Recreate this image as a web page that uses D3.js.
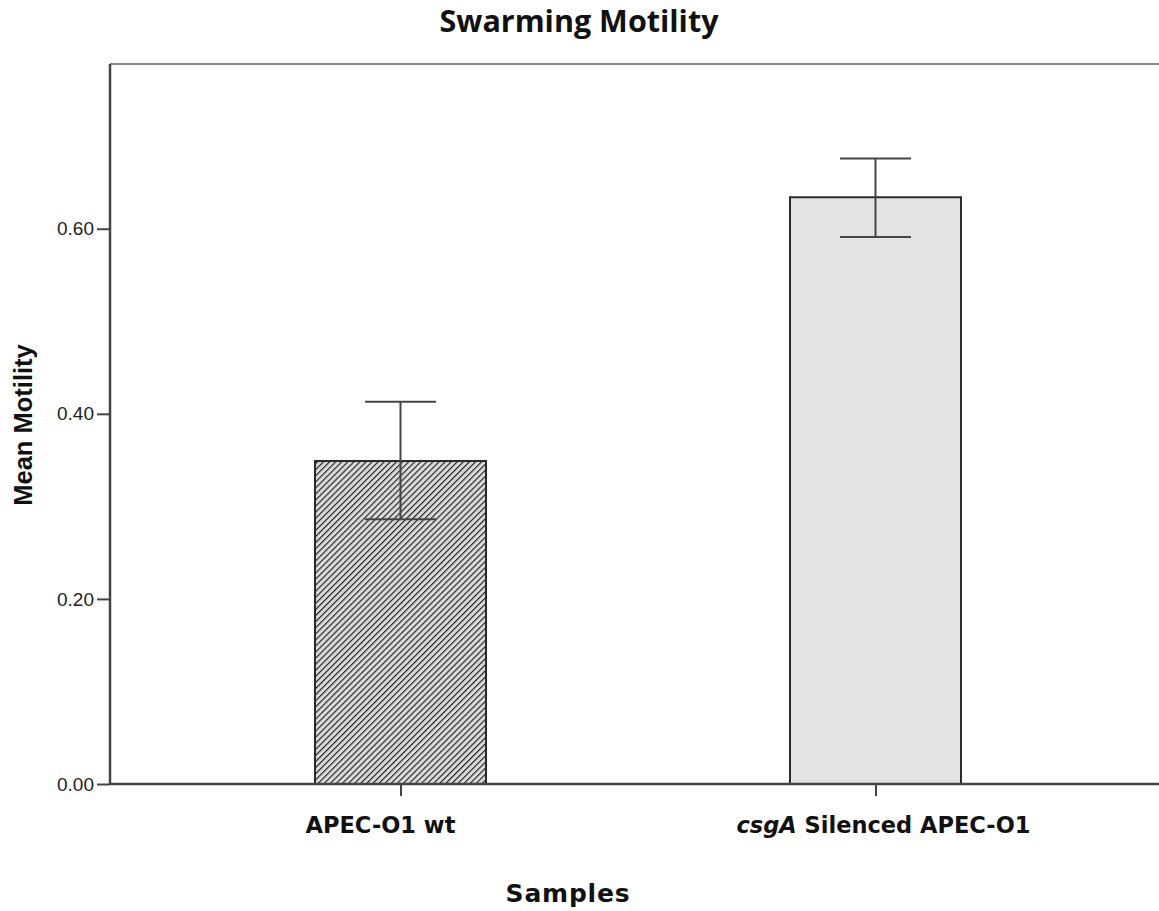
<!DOCTYPE html>
<html>
<head>
<meta charset="utf-8">
<script src="https://cdn.jsdelivr.net/npm/d3@7"></script>
<style>
  body { margin: 0; background: #fff; }
  svg { display: block; }
</style>
</head>
<body>
<script>
const categories = ['APEC-O1 wt', 'csgA Silenced APEC-O1']
const means = [0.349, 0.634]
const errLow = [0.286, 0.591]
const errHigh = [0.413, 0.676]
const yTicks = [0, 0.2, 0.4, 0.6]

const W = 1159, H = 911
const plotLeft = 110, plotTop = 64, plotBottom = 784, plotRight = 1170

const svg = d3.select('body').append('svg').attr('width', W).attr('height', H)

const defs = svg.append('defs')
const pat = defs.append('pattern')
  .attr('id', 'hatch')
  .attr('patternUnits', 'userSpaceOnUse')
  .attr('width', 4.3).attr('height', 4.3)
  .attr('patternTransform', 'rotate(45)')
pat.append('rect').attr('width', 4.3).attr('height', 4.3).attr('fill', '#dadada')
pat.append('line').attr('x1', 0).attr('y1', 0).attr('x2', 0).attr('y2', 4.3)
  .attr('stroke', '#1a1a1a').attr('stroke-width', 2.2)

const y = d3.scaleLinear().domain([0, 0.778]).range([plotBottom, plotTop])
const x = d3.scalePoint().domain(categories).range([400.5, 875.5])
const barW = 171

// frame top line
svg.append('line').attr('x1', plotLeft).attr('x2', plotRight).attr('y1', plotTop).attr('y2', plotTop)
  .attr('stroke', '#8a8a8a').attr('stroke-width', 2)

// bars
svg.selectAll('rect.bar').data(categories).join('rect')
  .attr('class', 'bar')
  .attr('x', d => x(d) - barW / 2)
  .attr('y', (d, i) => y(means[i]))
  .attr('width', barW)
  .attr('height', (d, i) => y(0) - y(means[i]))
  .attr('fill', (d, i) => i === 0 ? 'url(#hatch)' : '#e3e3e3')
  .attr('stroke', '#2a2a2a').attr('stroke-width', 2)

// error bars
const capW = 71
const eb = svg.selectAll('g.err').data(categories).join('g').attr('class', 'err')
  .attr('stroke', '#444').attr('stroke-width', 2)
eb.append('line')
  .attr('x1', d => x(d)).attr('x2', d => x(d))
  .attr('y1', (d, i) => y(errLow[i])).attr('y2', (d, i) => y(errHigh[i]))
eb.append('line')
  .attr('x1', d => x(d) - capW / 2).attr('x2', d => x(d) + capW / 2)
  .attr('y1', (d, i) => y(errHigh[i])).attr('y2', (d, i) => y(errHigh[i]))
eb.append('line')
  .attr('x1', d => x(d) - capW / 2).attr('x2', d => x(d) + capW / 2)
  .attr('y1', (d, i) => y(errLow[i])).attr('y2', (d, i) => y(errLow[i]))

// y axis
const yAxis = svg.append('g').attr('transform', `translate(${plotLeft},0)`)
  .call(d3.axisLeft(y).tickValues(yTicks).tickFormat(d3.format('.2f')).tickSize(13).tickSizeOuter(0))
yAxis.select('.domain').attr('stroke', '#444').attr('stroke-width', 2.5)
  .attr('d', `M0,${plotBottom}V${plotTop}`)
yAxis.selectAll('.tick line').attr('stroke', '#444').attr('stroke-width', 2)
yAxis.selectAll('.tick text').attr('x', -16)
  .attr('font-family', 'Liberation Sans, Arial, sans-serif').attr('font-size', 19).attr('fill', '#222')

// x axis
const xAxis = svg.append('g').attr('transform', `translate(0,${plotBottom})`)
  .call(d3.axisBottom(x).tickSize(12).tickSizeOuter(0).tickFormat(''))
xAxis.select('.domain').attr('stroke', '#444').attr('stroke-width', 2.5)
  .attr('d', `M${plotLeft},0H${plotRight}`)
xAxis.selectAll('.tick line').attr('stroke', '#444').attr('stroke-width', 2)

// x tick labels (the original sits slightly off its ticks)
const labelShift = [-20, 8]
const xl = svg.selectAll('text.xl').data(categories).join('text').attr('class', 'xl')
  .attr('x', (d, i) => x(d) + labelShift[i]).attr('y', 833)
  .attr('text-anchor', 'middle')
  .attr('font-family', 'DejaVu Sans, Verdana, sans-serif')
  .attr('font-weight', 'bold').attr('font-size', 22.5).attr('fill', '#111')
xl.each(function (d) {
  const t = d3.select(this)
  if (d.startsWith('csgA')) {
    t.append('tspan').attr('font-style', 'italic').text('csgA')
    t.append('tspan').text(d.slice(4))
  } else {
    t.text(d)
  }
})

// title
svg.append('text').attr('x', 579).attr('y', 32).attr('text-anchor', 'middle')
  .attr('font-family', 'Open Sans, sans-serif').attr('font-weight', 'bold')
  .attr('font-size', 30.5).attr('fill', '#111')
  .text('Swarming Motility')

// axis titles
svg.append('text').attr('x', 568).attr('y', 902).attr('text-anchor', 'middle')
  .attr('font-family', 'DejaVu Sans, Verdana, sans-serif').attr('font-weight', 'bold')
  .attr('font-size', 25).attr('letter-spacing', 0.8).attr('fill', '#111')
  .text('Samples')

svg.append('text').attr('transform', 'translate(32,425) rotate(-90)').attr('text-anchor', 'middle')
  .attr('font-family', 'Liberation Sans, Arial, sans-serif').attr('font-weight', 'bold')
  .attr('font-size', 25.5).attr('fill', '#111')
  .text('Mean Motility')
</script>
</body>
</html>
